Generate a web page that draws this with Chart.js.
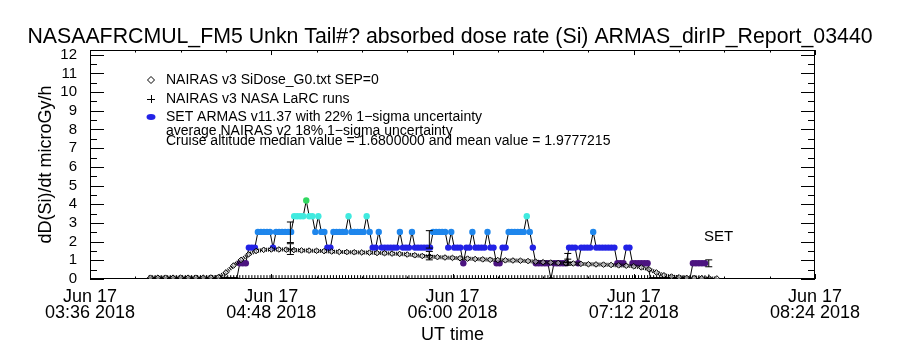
<!DOCTYPE html>
<html><head><meta charset="utf-8">
<script src="https://cdn.jsdelivr.net/npm/chart.js@4.4.1/dist/chart.umd.min.js"></script>
<style>html,body{margin:0;padding:0;background:#fff;}#wrap{width:900px;height:350px;}</style>
</head><body><div id="wrap"><canvas id="c" width="900" height="350"></canvas></div>
<script>
// ---------- text ----------
const titleText = 'NASAAFRCMUL_FM5 Unkn Tail#? absorbed dose rate (Si) ARMAS_dirIP_Report_03440';
const yAxisTitle = 'dD(Si)/dt microGy/h';
const xAxisTitle = 'UT time';
const xTickMinutes = [216, 288, 360, 432, 504];            // minutes of day
const xTickDate = 'Jun 17';
const xTickTimes = ['03:36 2018', '04:48 2018', '06:00 2018', '07:12 2018', '08:24 2018'];
const yTickValues = [0, 1, 2, 3, 4, 5, 6, 7, 8, 9, 10, 11, 12];
const legendLabels = ['NAIRAS v3 SiDose_G0.txt SEP=0', 'NAIRAS v3 NASA LaRC runs', 'SET ARMAS v11.37 with 22% 1\u2212sigma uncertainty'];
const legendNotes = ['average NAIRAS v2 18% 1\u2212sigma uncertainty', 'Cruise altitude median value = 1.6800000 and mean value = 1.9777215'];
const setTag = 'SET';

// ---------- NAIRAS v3 SiDose (every 3 min from 04:00) ----------
const nairasStartMin = 240, nairasStepMin = 3;
const nairasDose = [
 0.07,0.07,0.07,0.07,0.07,0.07,0.07,0.07,0.08,0.10,
 0.35,0.72,1.02,1.32,1.50,1.56,1.58,1.58,1.57,1.55,
 1.53,1.52,1.51,1.49,1.47,1.45,1.44,1.43,1.42,1.41,
 1.39,1.38,1.36,1.34,1.31,1.27,1.23,1.20,1.17,1.15,
 1.13,1.11,1.09,1.07,1.05,1.03,1.01,1.00,0.99,0.98,
 0.96,0.93,0.90,0.88,0.86,0.85,0.83,0.81,0.79,0.78,
 0.77,0.75,0.73,0.71,0.68,0.62,0.52,0.35,0.20,0.13,
 0.09,0.06,0.05,0.04,0.03,0.03];

// ---------- SET ARMAS samples (quantized dose levels) ----------
const setStartMin = 239.5, setStepMin = 1.2;
const setLevelValues = [0, 0.84, 1.68, 2.52, 3.36, 4.20];
const setLevelColors = ['#000000', '#4c1480', '#2222e6', '#1e86ec', '#40eadf', '#30d860'];
const setLevelIdx = [
 0,0,0,0,0,0,0,0,0,0, 0,0,0,0,0,0,0,0,0,0, 0,0,0,0,0,0,0,0,0,0,
 1,1,1, 2,2,2, 3,3,3,3,3, 2, 3,3,3,3,3,3, 4,4,4,4, 5, 4,4, 3, 4, 3,3, 2,2,
 3,3,3,3,3, 4, 3,3,3,3,3, 4, 3, 2,2, 3, 2,2,2,2,2,2, 3, 2,2,2, 3, 2,2,2,2,2,2,
 3,3,3,3,3, 2, 3, 2,2,2, 1, 2,2, 3, 2,2,2,2, 3, 2,2, 1,1, 2,2, 3,3,3,3,3,3, 4, 3, 2,
 1,1,1,1,1, 0, 1,1,1,1,1, 2,2,2, 1, 2,2,2,2, 3, 2,2,2,2,2,2,2, 1,1,1, 2,2, 1,1,1,1,1,1,
 0,0,0,0,0,0,0,0,0,0,0,0,0,0, 1,1,1,1,1];

// ---------- NAIRAS v3 NASA LaRC runs ----------
const larcMin = [295.6, 350.8, 405.8, 461.8];
const larcDose = [1.60, 1.25, 0.90, 0.03];
const setAvgAtLarc = [2.50, 2.12, 1.12, 0.84];
const setUncert = 0.22, nairasUncert = 0.18;

// ---------- build datasets ----------
const FONT = 'Liberation Sans, Arial, sans-serif';
const nairasPts = nairasDose.map((v, i) => ({x: nairasStartMin + i * nairasStepMin, y: v}));
const setPts = setLevelIdx.map((k, i) => ({x: setStartMin + i * setStepMin, y: setLevelValues[k]}));
const setColors = setLevelIdx.map(k => setLevelColors[k]);
const setRadii = setLevelIdx.map(k => k === 0 ? 2.2 : 3.2);
const combPts = setPts.map(p => ({x: p.x, y: 0.1}));
const errPts = [];
larcMin.forEach((t, i) => {
  const s = setAvgAtLarc[i], n = larcDose[i];
  errPts.push({x: t, y: s * (1 - setUncert)}, {x: t, y: s * (1 + setUncert)}, {x: t, y: null});
  errPts.push({x: t, y: n * (1 - nairasUncert)}, {x: t, y: n * (1 + nairasUncert)}, {x: t, y: null});
});
const larcPts = larcMin.map((t, i) => ({x: t, y: larcDose[i]}));

// ---------- plugins: frame with inward ticks, legend, tag ----------
const axisDecor = {
  id: 'axisDecor',
  beforeDatasetsDraw(chart) {
    const {ctx, chartArea: a, scales: {x, y}} = chart;
    ctx.save();
    ctx.strokeStyle = '#000'; ctx.lineWidth = 1;
    ctx.strokeRect(Math.round(a.left) + 0.5, Math.round(a.top) + 0.5, Math.round(a.right - a.left) - 1, Math.round(a.bottom - a.top) - 1);
    ctx.beginPath();
    for (let v = y.min; v <= 12; v += 0.5) {
      const py = Math.round(y.getPixelForValue(v)) + 0.5;
      const len = Number.isInteger(v) ? 14 : 7;
      ctx.moveTo(a.left, py); ctx.lineTo(a.left + len, py);
      ctx.moveTo(a.right, py); ctx.lineTo(a.right - len, py);
    }
    for (let m = x.min; m <= x.max; m += 18) {
      const px = Math.round(x.getPixelForValue(m)) + 0.5;
      const len = ((m - x.min) % 72 === 0) ? 5 : 2.5;
      ctx.moveTo(px, a.bottom); ctx.lineTo(px, a.bottom - len);
      ctx.moveTo(px, a.top); ctx.lineTo(px, a.top + len);
    }
    ctx.stroke();
    ctx.restore();
  },
  afterDraw(chart) {
    const {ctx} = chart;
    ctx.save();
    ctx.fillStyle = '#000'; ctx.strokeStyle = '#000'; ctx.lineWidth = 1;
    ctx.font = '14px ' + FONT; ctx.textBaseline = 'middle'; ctx.textAlign = 'left';
    const sx = 151, tx = 166, ys = [80, 99, 117];
    // diamond
    ctx.beginPath(); ctx.moveTo(sx, ys[0] - 3.5); ctx.lineTo(sx + 3.5, ys[0]); ctx.lineTo(sx, ys[0] + 3.5); ctx.lineTo(sx - 3.5, ys[0]); ctx.closePath();
    ctx.fillStyle = '#fff'; ctx.fill(); ctx.stroke();
    // plus
    ctx.beginPath(); ctx.moveTo(sx - 4, ys[1] + 0.5); ctx.lineTo(sx + 4, ys[1] + 0.5); ctx.moveTo(sx + 0.5, ys[1] - 4); ctx.lineTo(sx + 0.5, ys[1] + 4); ctx.stroke();
    // blue ellipse
    ctx.beginPath(); ctx.ellipse(sx, ys[2], 4.5, 3, 0, 0, Math.PI * 2); ctx.fillStyle = setLevelColors[2]; ctx.fill();
    ctx.fillStyle = '#000';
    legendLabels.forEach((t, i) => ctx.fillText(t, tx, ys[i]));
    ctx.fillText(legendNotes[0], tx, 131);
    ctx.fillText(legendNotes[1], tx, 141);
    ctx.font = '15px ' + FONT;
    ctx.fillText(setTag, 704, 237);
    ctx.restore();
  }
};

Chart.defaults.color = '#000';
Chart.defaults.font.family = FONT;

new Chart(document.getElementById('c'), {
  type: 'line',
  data: {
    datasets: [
      {label: 'comb', data: combPts, showLine: false, pointStyle: 'line', rotation: 90, pointRadius: 2, borderColor: '#000', borderWidth: 1, order: 5},
      {label: legendLabels[2], data: setPts, showLine: true, borderColor: '#000', borderWidth: 1, tension: 0,
       pointRadius: setRadii, pointBackgroundColor: setColors, pointBorderColor: setColors, pointBorderWidth: 0, order: 4},
      {label: legendLabels[0] + ' band', data: nairasPts, showLine: true, borderColor: '#000', borderWidth: 4, borderDash: [1, 1], tension: 0,
       pointRadius: 0, order: 3},
      {label: legendLabels[0], data: nairasPts, showLine: false,
       pointStyle: 'rectRot', pointRadius: 2.8, pointBackgroundColor: 'rgba(255,255,255,0.5)', pointBorderColor: '#000', pointBorderWidth: 1, order: 2},
      {label: 'uncertainty', data: errPts, showLine: true, spanGaps: false, borderColor: '#000', borderWidth: 1,
       pointStyle: 'line', pointRadius: 3.5, pointBorderColor: '#000', pointBorderWidth: 1, order: 1},
      {label: legendLabels[1], data: larcPts, showLine: false, pointStyle: 'cross', pointRadius: 4, pointBorderColor: '#000', pointBorderWidth: 1, order: 0}
    ]
  },
  options: {
    animation: false, responsive: false, events: [],
    layout: {padding: {left: 0, right: 0, top: 0, bottom: 0}},
    plugins: {
      legend: {display: false}, tooltip: {enabled: false},
      title: {display: true, text: titleText, color: '#000', font: {family: FONT, size: 21.3, weight: 'normal', lineHeight: 1.2}, padding: {top: 24.5, bottom: 0}}
    },
    scales: {
      x: {
        type: 'linear', min: 216, max: 504,
        afterBuildTicks: s => { s.ticks = xTickMinutes.map(v => ({value: v})); },
        afterFit: s => { s.height = 71; },
        ticks: {callback: v => [xTickDate, xTickTimes[xTickMinutes.indexOf(v)]], maxRotation: 0, autoSkip: false, padding: 10, color: '#000', font: {size: 18, lineHeight: 0.9}},
        grid: {display: false, drawTicks: false}, border: {display: false},
        title: {display: true, text: xAxisTitle, color: '#000', font: {size: 18, lineHeight: 1.2}, padding: {top: 0, bottom: 4}}
      },
      y: {
        type: 'linear', min: 0, max: 12.25,
        afterBuildTicks: s => { s.ticks = yTickValues.map(v => ({value: v})); },
        afterFit: s => { s.width = 90; },
        ticks: {padding: 13, color: '#000', autoSkip: false, font: {size: 15}},
        grid: {display: false, drawTicks: false}, border: {display: false},
        title: {display: true, text: yAxisTitle, color: '#000', font: {size: 18, lineHeight: 1.2}, padding: {top: 35, bottom: 0}}
      },
      yRight: {
        type: 'linear', position: 'right', min: 0, max: 12.25, display: true,
        afterFit: s => { s.width = 85; },
        ticks: {display: false}, grid: {display: false, drawTicks: false}, border: {display: false}
      }
    }
  },
  plugins: [axisDecor]
});
</script></body></html>
